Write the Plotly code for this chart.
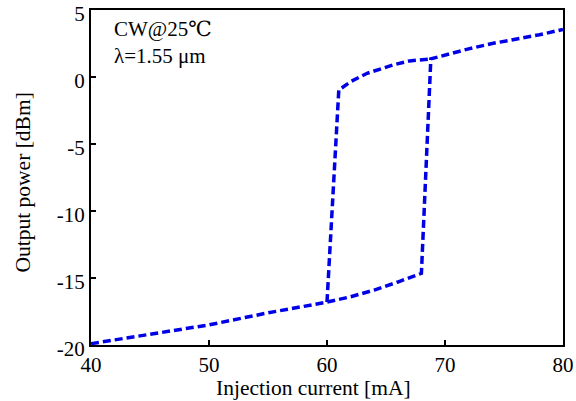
import plotly.graph_objects as go

# Data
# Path 1: lower branch (increasing current), jump up near 68.8 mA, then upper branch to 80 mA
lower_x = [40, 45, 50, 55, 60, 62, 64, 66, 68.0, 68.8, 70, 72, 74, 76, 78, 80]
lower_y = [-19.9, -19.2, -18.5, -17.6, -16.8, -16.4, -15.9, -15.3, -14.65, 1.35, 1.65, 2.1, 2.5, 2.8, 3.15, 3.55]
# Path 2: upper branch (decreasing current), jump down near 60 mA
upper_x = [60.0, 61.0, 62, 63.4, 65.6, 67, 68.8]
upper_y = [-16.8, -0.97, -0.35, 0.28, 0.9, 1.2, 1.35]

x_ticks = [40, 50, 60, 70, 80]
y_ticks = [-20, -15, -10, -5, 0, 5]
y_tick_text = ["-20", "-15", "-10", "-5", "0", "5"]

line_style = dict(color="#0000e6", width=3.5, dash="8px,4px")

fig = go.Figure()
fig.add_trace(go.Scatter(x=lower_x, y=lower_y, mode="lines", line=line_style, showlegend=False))
fig.add_trace(go.Scatter(x=upper_x, y=upper_y, mode="lines", line=line_style, showlegend=False))

FAM = "Liberation Serif, Times New Roman, DejaVu Serif, serif"
font = dict(family=FAM, size=21, color="black")
title_font = dict(family=FAM, size=21.5, color="black")

fig.update_layout(
    template="none",
    width=576, height=401,
    margin=dict(l=91, r=13, t=10, b=56),
    paper_bgcolor="white", plot_bgcolor="white",
    font=font,
    xaxis=dict(range=[40, 80], tickvals=x_ticks, ticks="inside", ticklen=5, tickwidth=1.5,
               tickcolor="black", automargin=False, ticklabeloverflow="allow",
               showline=True, linecolor="black", linewidth=2, mirror=True,
               showgrid=False, zeroline=False, tickfont=font),
    yaxis=dict(range=[-20, 5], tickvals=y_ticks, ticktext=y_tick_text, ticks="inside",
               ticklen=5, tickwidth=1.5, tickcolor="black", automargin=False,
               ticklabeloverflow="allow", ticklabelshift=4,
               showline=True, linecolor="black", linewidth=2, mirror=True,
               showgrid=False, zeroline=False, tickfont=font),
    annotations=[
        dict(x=0.472, y=0, xref="paper", yref="paper", text="Injection current [mA]",
             showarrow=False, xanchor="center", yanchor="middle", yshift=-43, font=title_font),
        dict(x=0, y=0.485, xref="paper", yref="paper", text="Output power [dBm]",
             showarrow=False, xanchor="center", yanchor="middle", xshift=-68, textangle=-90,
             font=title_font),
        dict(x=0.045, y=0.985, xref="paper", yref="paper", text="CW@25℃", showarrow=False,
             xanchor="left", yanchor="top", font=font),
        dict(x=0.045, y=0.905, xref="paper", yref="paper", text="λ=1.55 μm", showarrow=False,
             xanchor="left", yanchor="top", font=font),
    ],
)

# remove the default page margin so the figure sits at the window's top-left corner
fig.write_html("out.html", config={"displayModeBar": False},
               post_script="document.body.style.margin='0';")
